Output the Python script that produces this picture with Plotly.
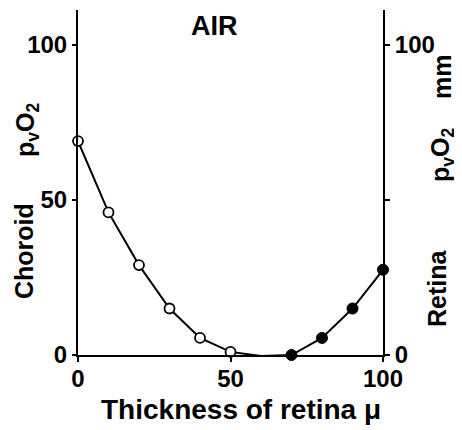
import plotly.graph_objects as go

# Data
thickness_choroid = [0, 10, 20, 30, 40, 50, 60]
po2_choroid = [69, 46, 29, 15, 5.5, 1, -0.3]
thickness_retina = [70, 80, 90, 100]
po2_retina = [0, 5.5, 15, 27.5]

x_ticks = [0, 50, 100]
x_ticklabels = ["0", "50", "100"]
y_ticks = [0, 50, 100]
y_left_labels = ["0", "50", "100"]
y_right_labels = ["0", "", "100"]

FONT = "Liberation Sans, Arial, Helvetica, sans-serif"
YMAX = 111.3
OFF = 8  # default page body margin
W, H = 462 - OFF, 430 - OFF
L, T = 78 - OFF, 10 - OFF
R = W - (383 - OFF)
B = H - (355 - OFF)
PW = W - L - R
PH = H - T - B


def px(pix):
    return (pix - OFF - L) / PW


def py(pix):
    return (H - B - (pix - OFF)) / PH


fig = go.Figure()

fig.add_trace(go.Scatter(
    x=thickness_choroid + thickness_retina,
    y=po2_choroid + po2_retina,
    mode="lines",
    line=dict(color="black", width=2),
    cliponaxis=False, showlegend=False, hoverinfo="skip"))

fig.add_trace(go.Scatter(
    x=thickness_choroid, y=po2_choroid, mode="markers",
    marker=dict(symbol="circle", size=10, color="white",
                line=dict(color="black", width=1.8)),
    cliponaxis=False, showlegend=False))

fig.add_trace(go.Scatter(
    x=thickness_retina, y=po2_retina, mode="markers",
    marker=dict(symbol="circle", size=11, color="black",
                line=dict(color="black", width=1)),
    cliponaxis=False, showlegend=False))

fig.add_trace(go.Scatter(x=[None], y=[None], yaxis="y2", showlegend=False))

axis_font = dict(family=FONT, size=24, color="black", weight="bold")

fig.update_layout(
    width=W, height=H,
    margin=dict(l=L, r=R, t=T, b=B, autoexpand=False),
    paper_bgcolor="white", plot_bgcolor="white",
    font=dict(family=FONT, color="black", weight="bold"),
    xaxis=dict(range=[0, 100], tickvals=x_ticks, ticktext=x_ticklabels,
               showgrid=False, zeroline=False, showline=True, automargin=False,
               linecolor="black", linewidth=2, ticks="outside",
               ticklen=5, tickwidth=2, tickcolor="black",
               ticklabelstandoff=-4, tickfont=axis_font),
    yaxis=dict(range=[0, YMAX], tickvals=y_ticks, ticktext=y_left_labels,
               showgrid=False, zeroline=False, showline=True, automargin=False,
               linecolor="black", linewidth=2, ticks="outside",
               ticklen=4, tickwidth=2, tickcolor="black",
               tickfont=axis_font),
    yaxis2=dict(range=[0, YMAX], tickvals=y_ticks, ticktext=y_right_labels,
                overlaying="y", side="right", automargin=False,
                showgrid=False, zeroline=False, showline=True,
                linecolor="black", linewidth=2, ticks="outside",
                ticklen=5, tickwidth=2, tickcolor="black",
                tickfont=axis_font),
)


def label(text, xpix, ypix, size=25, angle=-90):
    fig.add_annotation(text=text, xref="paper", yref="paper",
                       x=px(xpix), y=py(ypix),
                       xanchor="center", yanchor="middle",
                       textangle=angle, showarrow=False,
                       font=dict(family=FONT, size=size, color="black",
                                 weight="bold"))


label("AIR", 214, 26, size=27, angle=0)
label("Thickness of retina μ", 241, 409, size=28, angle=0)
label("Choroid", 24, 251)
label("p<sub>v</sub>O<sub>2</sub>", 27, 130)
label("Retina", 437, 288)
label("p<sub>v</sub>O<sub>2</sub>", 442, 155)
label("mm", 442, 77)

fig.write_html("out.html")
